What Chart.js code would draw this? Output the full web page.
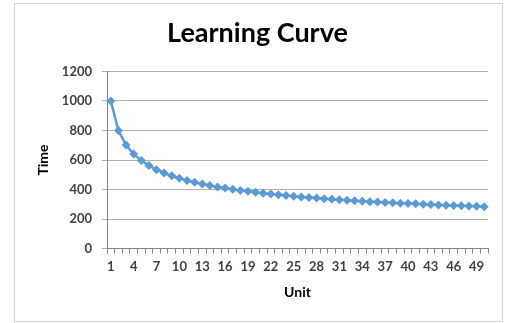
<!DOCTYPE html>
<html lang="en">
<head>
  <meta charset="UTF-8">
  <title>Learning Curve</title>
  <script src="https://cdn.jsdelivr.net/npm/chart.js"></script>
  <style>
    body {
      margin: 0;
      background: #fff;
      font-family: Lato, sans-serif;
    }
    #box {
      position: absolute;
      left: 14px;
      top: 3px;
      width: 487px;
      height: 317px;
      border: 1px solid #d4d4d4;
    }
  </style>
</head>
<body>
  <div id="box"><canvas id="curveChart" width="487" height="317"></canvas></div>

  <script>
    // unit numbers 1..50
    const units = [1, 2, 3, 4, 5, 6, 7, 8, 9, 10, 11, 12, 13, 14, 15, 16, 17, 18, 19, 20,
      21, 22, 23, 24, 25, 26, 27, 28, 29, 30, 31, 32, 33, 34, 35, 36, 37, 38, 39, 40,
      41, 42, 43, 44, 45, 46, 47, 48, 49, 50];

    // time per unit
    const times = [1000, 800, 702, 640, 596, 562, 534, 512, 493, 477, 462, 449, 438, 428, 418, 410, 402, 394, 388, 381,
      375, 370, 364, 360, 355, 350, 346, 342, 338, 335, 331, 328, 324, 321, 318, 316, 313, 310, 307, 305,
      303, 300, 298, 296, 294, 292, 290, 288, 286, 284];

    const yTicks = [0, 200, 400, 600, 800, 1000, 1200];

    const blue = '#5b9bd5';
    const txt = '#404040';

    const ctx = document.getElementById('curveChart').getContext('2d');
    new Chart(ctx, {
      type: 'line',
      data: {
        labels: units,
        datasets: [{
          label: 'Time',
          data: times,
          borderColor: blue,
          backgroundColor: blue,
          borderWidth: 2.5,
          pointStyle: 'rectRot',
          pointRadius: 4.5,
          pointBorderWidth: 0,
          tension: 0
        }]
      },
      options: {
        responsive: false,
        animation: false,
        layout: { padding: { left: 12, right: 14, top: 0, bottom: 20 } },
        plugins: {
          legend: { display: false },
          tooltip: { enabled: false },
          title: {
            display: true,
            text: 'Learning Curve',
            color: '#000',
            font: { family: 'Lato', size: 27, weight: 'bold' },
            padding: { top: 13, bottom: 22 }
          }
        },
        scales: {
          x: {
            offset: true,
            grid: {
              offset: true,
              drawOnChartArea: false,
              drawTicks: true,
              tickLength: 5,
              color: '#868686'
            },
            border: { color: '#868686' },
            ticks: {
              autoSkip: false,
              maxRotation: 0,
              padding: 5,
              color: txt,
              font: { family: 'Lato', size: 13, weight: 'bold' },
              callback: (v, i) => (i % 3 === 0 ? units[i] : '')
            },
            title: {
              display: true,
              text: 'Unit',
              color: '#000',
              font: { family: 'Lato', size: 14, weight: 'bold' },
              padding: { top: 5, bottom: 0 }
            }
          },
          y: {
            min: 0,
            max: 1200,
            afterBuildTicks: scale => {
              scale.ticks = yTicks.map(v => ({ value: v }));
            },
            afterFit: scale => {
              scale.width = 80;
            },
            grid: {
              color: '#b0b0b0',
              tickLength: 5
            },
            border: { color: '#868686' },
            ticks: {
              padding: 10,
              color: txt,
              font: { family: 'Lato', size: 13, weight: 'bold' },
              callback: v => String(v)
            },
            title: {
              display: true,
              text: 'Time',
              color: '#000',
              font: { family: 'Lato', size: 14, weight: 'bold' },
              padding: { top: 8, bottom: 0 }
            }
          }
        }
      }
    });
  </script>
</body>
</html>
